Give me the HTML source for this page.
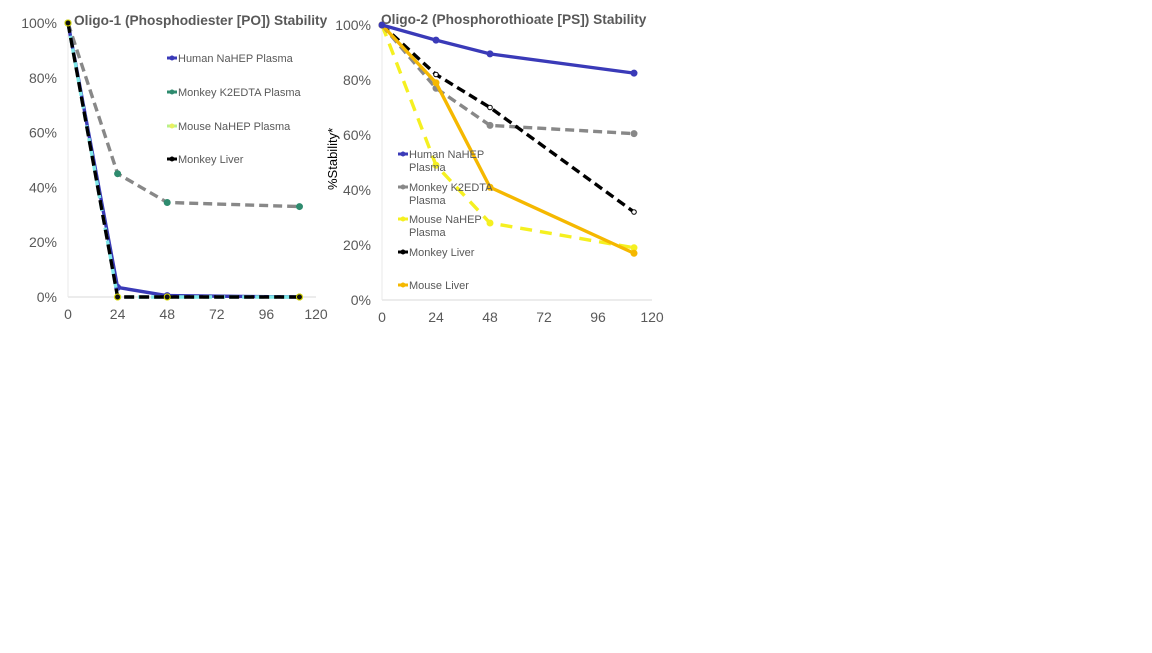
<!DOCTYPE html>
<html><head><meta charset="utf-8"><style>
body{margin:0;background:#fff;width:1152px;height:648px;overflow:hidden;font-family:"Liberation Sans",Arial,sans-serif}
svg text{font-family:"Liberation Sans",Arial,sans-serif}
</style></head><body>
<svg id="c" width="1152" height="648"></svg>
<script>
const xTicks=[0,24,48,72,96,120];
const yTicks=[0,20,40,60,80,100];
const times=[0,24,48,112];
const c1Names=["Human NaHEP Plasma","Monkey K2EDTA Plasma","Mouse NaHEP Plasma","Monkey Liver"];
const c1Human=[100,3.5,0.5,0];
const c1MonkeyK2=[100,45,34.5,33];
const c1Mouse=[100,0,0,0];
const c1MonkeyLiver=[100,0,0,0];
const c2Names=["Human NaHEP\nPlasma","Monkey K2EDTA\nPlasma","Mouse NaHEP\nPlasma","Monkey Liver","Mouse Liver"];
const c2Human=[100,94.5,89.5,82.5];
const c2MonkeyK2=[100,77,63.5,60.5];
const c2Mouse=[100,49,28,19];
const c2MonkeyLiver=[100,82,70,32];
const c2MouseLiver=[100,79,41,17];

const NS="http://www.w3.org/2000/svg";
const svg=document.getElementById('c');
function mk(t,a,p){const e=document.createElementNS(NS,t);for(const k in a)e.setAttribute(k,a[k]);(p||svg).appendChild(e);return e;}

function chart(cfg){
  const g=mk('g',{});
  
  
  const X=v=>cfg.x0+(v/120)*(cfg.x1-cfg.x0);
  const Y=v=>cfg.y0-(v/100)*(cfg.y0-cfg.y1);
  const ax=mk('line',{x1:cfg.x0,y1:cfg.y0,x2:cfg.x1,y2:cfg.y0,stroke:'#d9d9d9','stroke-width':1},g);
  
  const ay=mk('line',{x1:cfg.x0,y1:cfg.y0,x2:cfg.x0,y2:cfg.y1,stroke:'#e8e8e8','stroke-width':1},g);
  
  xTicks.forEach(t=>{const e=mk('text',{x:X(t),y:cfg.y0+22,'text-anchor':'middle','font-size':14,fill:'#595959'},g);e.textContent=t;
    });
  yTicks.forEach(t=>{const e=mk('text',{x:cfg.x0-11,y:Y(t)+5,'text-anchor':'end','font-size':14,fill:'#595959'},g);e.textContent=t+'%';
    });
  const tt=mk('text',{x:cfg.tx,y:cfg.ty,'font-size':13.7,'font-weight':'bold',fill:'#595959'},g);tt.textContent=cfg.title;
  
  cfg.series.forEach(s=>{
    const pts=s.data.map((v,i)=>X(times[i])+','+Y(v)).join(' ');
    const pl=mk('polyline',{points:pts,fill:'none',stroke:s.color,'stroke-width':s.w||3.4,'stroke-dasharray':s.dash||'none'},g);
    
    s.data.forEach((v,i)=>{const m=mk('circle',{cx:X(times[i]),cy:Y(v),r:s.r||3,fill:s.mk||s.color,stroke:s.mkS||s.color,'stroke-width':1},g);
      });
  });
  cfg.legend.forEach((l,i)=>{
    const lg=mk('g',{},g);
    
    mk('line',{x1:l.x,y1:l.y,x2:l.x+10,y2:l.y,stroke:l.color,'stroke-width':3},lg);
    mk('circle',{cx:l.x+5,cy:l.y,r:2.5,fill:l.mk||l.color},lg);
    l.text.split('\n').forEach((ln,j)=>{const e=mk('text',{x:l.x+11,y:l.y+4+j*13,'font-size':11,fill:'#595959'},lg);e.textContent=ln;});
  });
}

chart({name:'oligo-1-chart',x0:68,x1:316,y0:297,y1:23,tx:74,ty:25,title:'Oligo-1 (Phosphodiester [PO]) Stability',
 series:[
  {data:c1MonkeyK2,color:'#888',dash:'9,5',mk:'#2e8b6e',mkS:'#2e8b6e'},
  {data:c1Human,color:'#3a3ab8'},
  {data:c1Mouse,color:'#7fe8e8',dash:'9,4',mk:'#000',mkS:'#e8e800'},
  {data:c1MonkeyLiver,color:'#000',dash:'10,5',mk:'#111',mkS:'#d8d800'}],
 legend:[{x:167,y:58,color:'#3a3ab8',text:c1Names[0]},{x:167,y:92,color:'#2e8b6e',text:c1Names[1]},
  {x:167,y:126,color:'#b8f08a',mk:'#e8f060',text:c1Names[2]},{x:167,y:159,color:'#000',text:c1Names[3]}]});

chart({name:'oligo-2-chart',x0:382,x1:652,y0:300,y1:25,tx:381,ty:24,title:'Oligo-2 (Phosphorothioate [PS]) Stability',
 series:[
  {data:c2Mouse,color:'#f5f020',dash:'12,8'},
  {data:c2MonkeyK2,color:'#888',dash:'9,5'},
  {data:c2MonkeyLiver,color:'#000',dash:'9,5',mk:'#fff',mkS:'#000',r:2.3},
  {data:c2MouseLiver,color:'#f5b800'},
  {data:c2Human,color:'#3a3ab8'}],
 legend:[{x:398,y:154,color:'#3a3ab8',text:c2Names[0]},{x:398,y:187,color:'#888',text:c2Names[1]},
  {x:398,y:219,color:'#f5f020',text:c2Names[2]},{x:398,y:252,color:'#000',text:c2Names[3]},
  {x:398,y:285,color:'#f5b800',text:c2Names[4]}]});

const yl=mk('text',{x:0,y:0,transform:'translate(337,190) rotate(-90)','font-size':13,fill:'#000'});
yl.textContent='%Stability*';


</script>
</body></html>
